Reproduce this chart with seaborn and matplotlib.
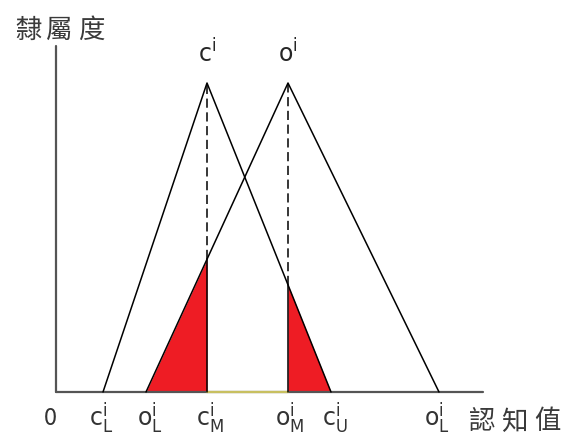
import numpy as np
import pandas as pd
import matplotlib.pyplot as plt
import seaborn as sns

# triangular fuzzy numbers (L, M, U) on the cognitive-value axis
c_tri = [47, 151, 275]
o_tri = [90, 232, 383]
mu_tri = [0, 1, 0]

tick_pos = [-6, 45, 94, 154, 234, 279, 381]
tick_lbl = ['0', r'$\mathrm{c}^{\mathrm{i}}_{\mathrm{L}}$', r'$\mathrm{o}^{\mathrm{i}}_{\mathrm{L}}$',
            r'$\mathrm{c}^{\mathrm{i}}_{\mathrm{M}}$', r'$\mathrm{o}^{\mathrm{i}}_{\mathrm{M}}$',
            r'$\mathrm{c}^{\mathrm{i}}_{\mathrm{U}}$', r'$\mathrm{o}^{\mathrm{i}}_{\mathrm{L}}$']
y_name = ['隸', '屬', '度']
x_name = ['認', '知', '值']
x_end = 427
y_top = 1.12

sns.set_style('white')
plt.rcParams['font.family'] = ['Noto Sans CJK TC', 'DejaVu Sans']
plt.rcParams['mathtext.fontset'] = 'dejavusans'

fig = plt.figure(figsize=(5.62, 4.41), dpi=100)
ax = fig.add_axes([0, 0, 1, 1])
ax.set_xlim(-56, 506)
ax.set_ylim(-49 / 309, 392 / 309)
ax.axis('off')

df = pd.DataFrame({'x': c_tri + o_tri, 'mu': mu_tri * 2,
                   'set': ['c'] * 3 + ['o'] * 3})


def mu_of(tri, x):
    l, m, u = tri
    if x <= m:
        return max(0, (x - l) / (m - l))
    return max(0, (u - x) / (u - m))


# red shaded areas
xs = np.linspace(o_tri[0], c_tri[1], 50)
ax.fill_between(xs, [mu_of(o_tri, v) for v in xs], 0, color='#ee1c24', lw=0)
xs = np.linspace(o_tri[1], c_tri[2], 50)
ax.fill_between(xs, [mu_of(c_tri, v) for v in xs], 0, color='#ee1c24', lw=0)

# axes
ax.plot([0, x_end], [0, 0], color='#555555', lw=1.6)
ax.plot([0, 0], [0, y_top], color='#555555', lw=1.6)
ax.plot([c_tri[1], o_tri[1]], [0, 0], color='#c8c060', lw=1.6)

# triangles
sns.lineplot(data=df, x='x', y='mu', units='set', estimator=None, sort=False,
             color='black', lw=1.1, ax=ax)

# vertical lines at the modes
h1 = mu_of(o_tri, c_tri[1])
h2 = mu_of(c_tri, o_tri[1])
ax.plot([c_tri[1]] * 2, [0, h1], color='black', lw=1.1)
ax.plot([o_tri[1]] * 2, [0, h2], color='black', lw=1.1)
ax.plot([c_tri[1]] * 2, [h1, 1], color='black', lw=1.1, ls=(0, (6, 3)))
ax.plot([o_tri[1]] * 2, [h2, 1], color='black', lw=1.1, ls=(0, (6, 3)))

# labels
ax.text(c_tri[1], 1.05, r'$\mathrm{c}^{\mathrm{i}}$', fontsize=17, ha='center', va='bottom')
ax.text(o_tri[1], 1.05, r'$\mathrm{o}^{\mathrm{i}}$', fontsize=17, ha='center', va='bottom')
for p, t in zip(tick_pos, tick_lbl):
    ax.text(p, -0.085, t, fontsize=17, ha='center', va='center', color='#333333')

for i, ch in enumerate(y_name):
    ax.text(-28 + i * 31.5, 1.171, ch, fontsize=19, fontweight='medium',
            ha='center', va='center', color='#3a3a3a')
for i, ch in enumerate(x_name):
    ax.text(426 + i * 32.5, -0.097, ch, fontsize=19, fontweight='medium',
            ha='center', va='center', color='#3a3a3a')

if ax.get_legend():
    ax.get_legend().remove()

fig.savefig('out.png', dpi=100)
